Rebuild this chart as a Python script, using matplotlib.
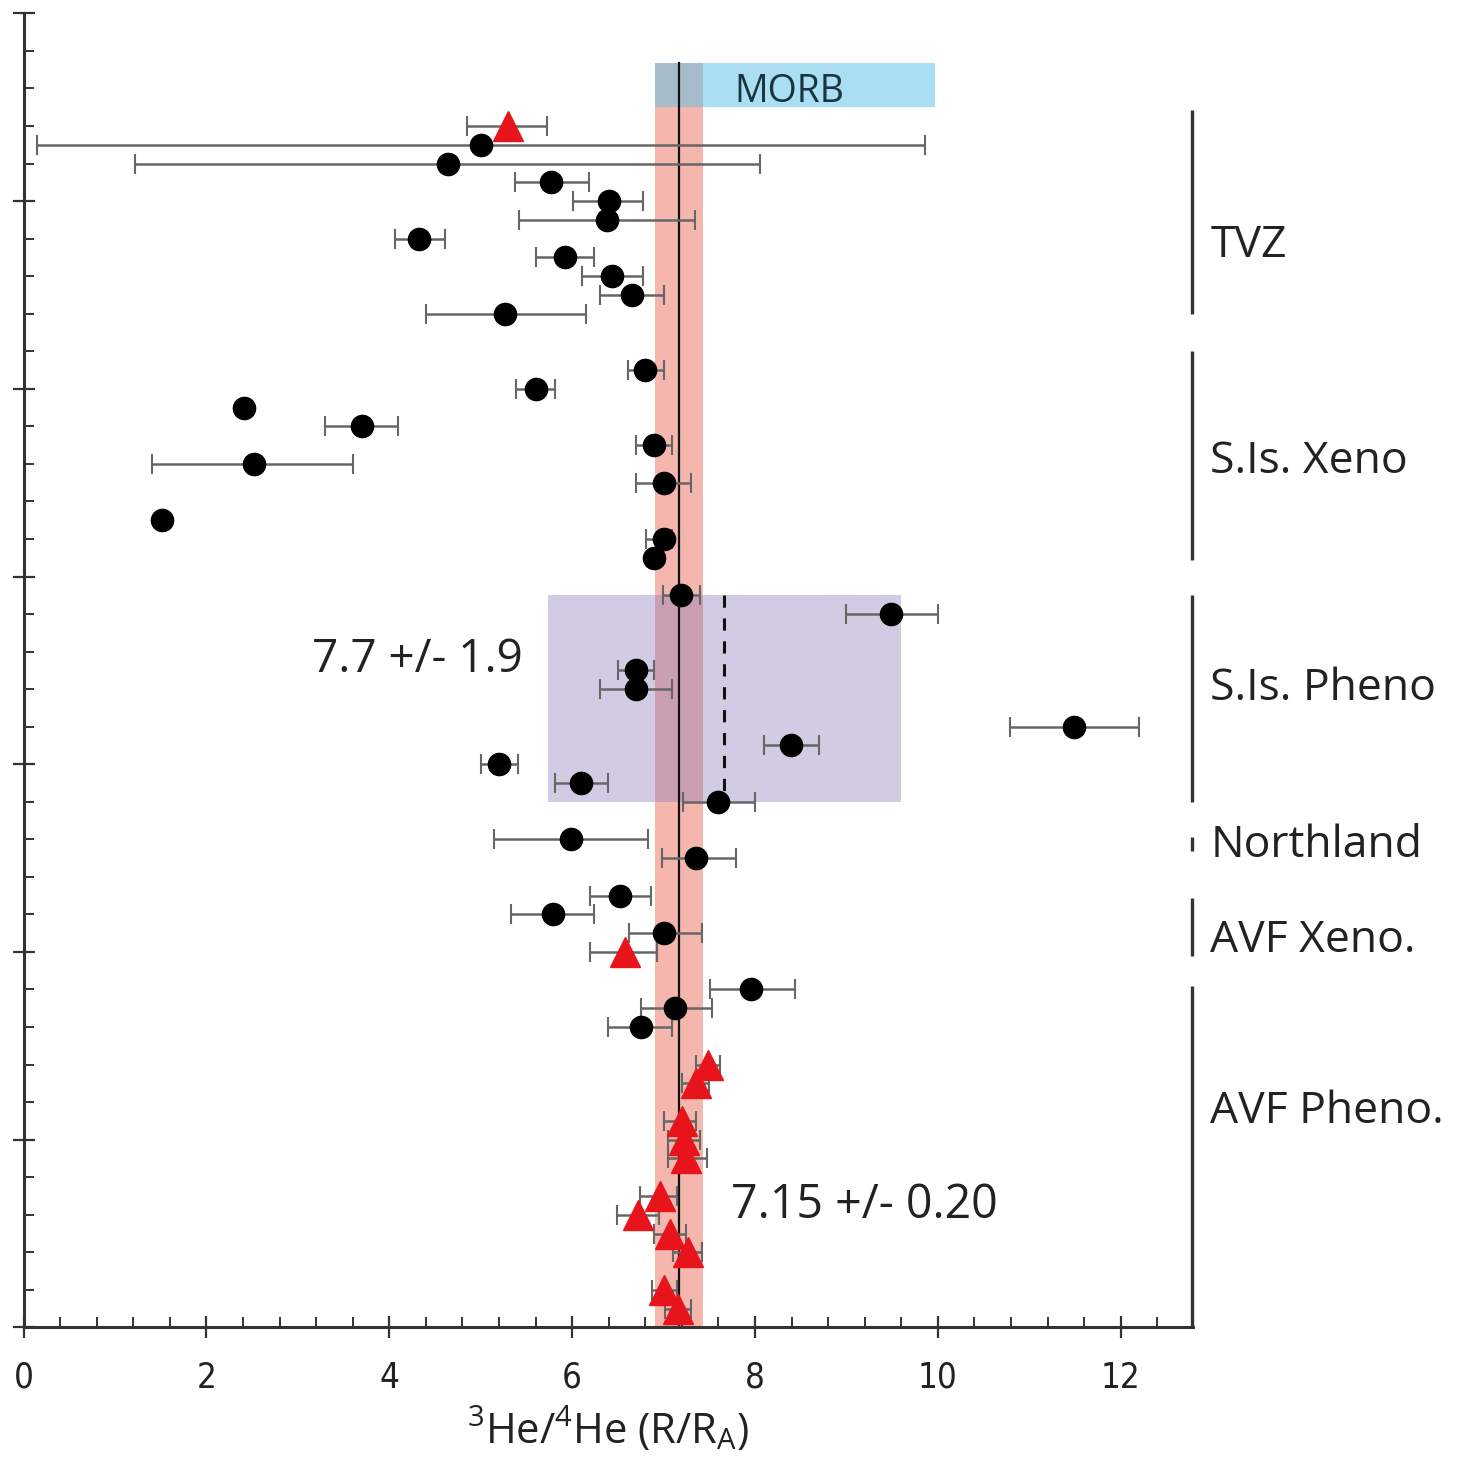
import matplotlib
matplotlib.use("Agg")
import matplotlib.pyplot as plt
from matplotlib.patches import Rectangle
from matplotlib.ticker import MultipleLocator
import numpy as np

plt.rcParams['font.family'] = ['Open Sans', 'DejaVu Sans']
plt.rcParams['mathtext.default'] = 'regular'

# --- data: sample row (from top), 3He/4He value, lower and upper error bounds ---
circ_row = [7, 8, 9, 10, 11, 12, 13, 14, 15, 16,
            19, 20, 21, 22, 23, 24, 25, 27, 28, 29,
            31, 32, 35, 36, 38, 39, 40, 41, 42,
            44, 45,
            47, 48, 49,
            52, 53, 54]
circ_val = [5.00, 4.64, 5.77, 6.40, 6.38, 4.33, 5.92, 6.44, 6.65, 5.27,
            6.80, 5.60, 2.41, 3.70, 6.90, 2.52, 7.00, 1.51, 7.00, 6.90,
            7.19, 9.49, 6.70, 6.70, 11.49, 8.39, 5.20, 6.10, 7.60,
            5.99, 7.36,
            6.52, 5.79, 7.01,
            7.96, 7.13, 6.75]
circ_lo = [0.15, 1.22, 5.37, 6.01, 5.42, 4.06, 5.60, 6.11, 6.30, 4.40,
           6.61, 5.39, 2.41, 3.30, 6.70, 1.41, 6.70, 1.51, 6.81, 6.90,
           6.99, 9.00, 6.50, 6.31, 10.79, 8.10, 5.00, 5.81, 7.21,
           5.14, 6.98,
           6.19, 5.33, 6.62,
           7.51, 6.75, 6.39]
circ_hi = [9.86, 8.06, 6.18, 6.78, 7.34, 4.61, 6.24, 6.78, 7.01, 6.15,
           7.00, 5.81, 2.41, 4.10, 7.09, 3.60, 7.30, 1.51, 7.09, 6.90,
           7.40, 10.00, 6.89, 7.09, 12.20, 8.70, 5.41, 6.39, 8.00,
           6.83, 7.79,
           6.86, 6.24, 7.42,
           8.44, 7.53, 7.09]

tri_row = [6, 50, 56, 57, 59, 60, 61, 63, 64, 65, 66, 68, 69]
tri_val = [5.30, 6.58, 7.49, 7.36, 7.20, 7.22, 7.25, 6.96, 6.72, 7.07, 7.27, 7.01, 7.16]
tri_lo = [4.85, 6.19, 7.35, 7.20, 7.01, 7.05, 7.05, 6.74, 6.49, 6.90, 7.10, 6.87, 7.02]
tri_hi = [5.72, 6.93, 7.62, 7.50, 7.36, 7.40, 7.47, 7.15, 6.95, 7.25, 7.42, 7.15, 7.30]

# groups: label, first row, last row of bracket, label baseline row
groups = ["TVZ", "S.Is. Xeno", "S.Is. Pheno", "Northland", "AVF Xeno.", "AVF Pheno."]
grp_start = [5.15, 18.0, 31.0, 43.9, 47.1, 51.8]
grp_end = [16.0, 29.1, 42.0, 44.6, 50.2, 70.0]
grp_text_row = [12.97, 24.49, 36.6, 44.93, 50.01, 59.12]

# reference values
avf_mean = 7.17
avf_band = (6.91, 7.43)
morb_range = (6.91, 9.97)
morb_rows = (2.66, 4.98)
sis_mean = 7.66
sis_range = (5.74, 9.60)
sis_rows = (31.0, 42.0)

XMAX = 12.79
NROWS = 70

fig = plt.figure(figsize=(14.71, 14.58), dpi=100)
ax = fig.add_axes([0.016, 0.0896, 0.795, 0.9012])
ax.set_xlim(0, XMAX)
ax.set_ylim(NROWS, 0)

# bands
ax.add_patch(Rectangle((morb_range[0], morb_rows[0]), morb_range[1] - morb_range[0],
                       morb_rows[1] - morb_rows[0], color='#aadff3', lw=0, zorder=1))
ax.add_patch(Rectangle((avf_band[0], morb_rows[0]), avf_band[1] - avf_band[0],
                       NROWS - morb_rows[0], color='#f4b6ad', lw=0, zorder=1))
ax.add_patch(Rectangle((avf_band[0], morb_rows[0]), avf_band[1] - avf_band[0],
                       morb_rows[1] - morb_rows[0], color='#a6bccb', lw=0, zorder=1.1))
ax.add_patch(Rectangle((sis_range[0], sis_rows[0]), sis_range[1] - sis_range[0],
                       sis_rows[1] - sis_rows[0], facecolor=(0.56, 0.49, 0.74, 0.40),
                       lw=0, zorder=1.2))
ax.plot([avf_mean, avf_mean], [morb_rows[0], NROWS], color='#111111', lw=1.6, zorder=2)
ax.plot([sis_mean, sis_mean], [sis_rows[0], sis_rows[1]], color='#111111', lw=2.2,
        ls=(0, (4, 3.5)), zorder=2)

ax.text(8.38, morb_rows[1] - 0.25, "MORB", fontsize=27, color='#1b3540',
        ha='center', va='baseline', zorder=3)

# data points
c_val = np.array(circ_val)
ax.errorbar(c_val, circ_row, xerr=[c_val - np.array(circ_lo), np.array(circ_hi) - c_val],
            fmt='o', ms=16, mfc='black', mec='black', ecolor='#666666',
            elinewidth=1.8, capsize=7, capthick=1.5, zorder=4)
t_val = np.array(tri_val)
ax.errorbar(t_val, tri_row, xerr=[t_val - np.array(tri_lo), np.array(tri_hi) - t_val],
            fmt='^', ms=22, mfc='#e8141c', mec='#e8141c', ecolor='#666666',
            elinewidth=1.8, capsize=7, capthick=1.5, zorder=4)

ax.text(3.15, 35.08, "7.7 +/- 1.9", fontsize=33, color='#222222', ha='left', va='baseline')
ax.text(7.74, 64.18, "7.15 +/- 0.20", fontsize=33.5, color='#222222', ha='left', va='baseline')

# group brackets and labels
for name, s, e, r in zip(groups, grp_start, grp_end, grp_text_row):
    ax.plot([XMAX - 0.01, XMAX - 0.01], [s, e], color='#333333', lw=2.4,
            clip_on=False, solid_capstyle='butt')
    ax.text(12.98, r, name, fontsize=32, color='#222222', ha='left', va='baseline',
            clip_on=False)

# axes styling
for side in ['top', 'right']:
    ax.spines[side].set_visible(False)
for side in ['left', 'bottom']:
    ax.spines[side].set_color('#333333')
    ax.spines[side].set_linewidth(2.2)

ax.xaxis.set_major_locator(MultipleLocator(2))
ax.xaxis.set_minor_locator(MultipleLocator(0.4))
ax.yaxis.set_major_locator(MultipleLocator(10))
ax.yaxis.set_minor_locator(MultipleLocator(2))
ax.tick_params(axis='both', which='major', direction='inout', length=16, width=1.6,
               color='#333333')
ax.tick_params(axis='both', which='minor', direction='in', length=7.5, width=1.4,
               color='#333333')
ax.tick_params(axis='x', which='major', pad=16, labelsize=25, labelcolor='#222222')
ax.tick_params(axis='y', labelleft=False)
for lab in ax.get_xticklabels():
    lab.set_family(['DejaVu Sans'])
    lab.set_stretch('condensed')

ax.set_xlabel(r'$\mathregular{^3}$He/$\mathregular{^4}$He (R/R$\mathregular{_A}$)',
              fontsize=30, color='#222222', labelpad=8)

fig.savefig("out.png", dpi=100)
